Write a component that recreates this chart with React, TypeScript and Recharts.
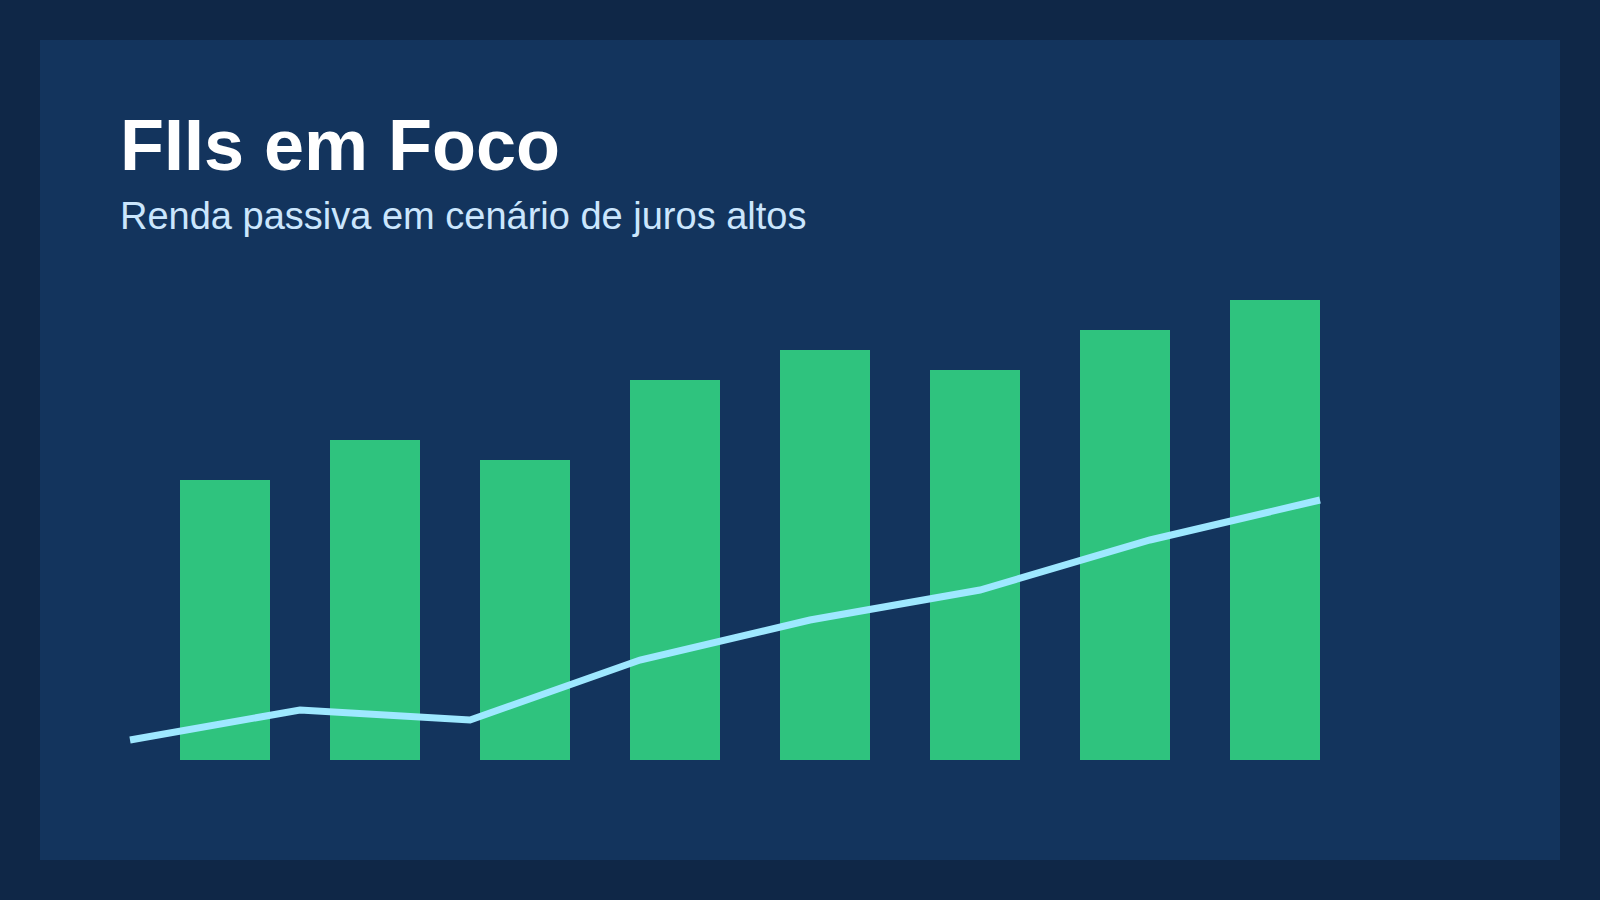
import React from 'react';
import { ComposedChart, Bar, Line, XAxis, YAxis } from 'recharts';

const months = ['Jan', 'Fev', 'Mar', 'Abr', 'Mai', 'Jun', 'Jul', 'Ago'];
const dividendYield = [0.56, 0.64, 0.6, 0.76, 0.82, 0.78, 0.86, 0.92];
const trendValues = [0.04, 0.1, 0.08, 0.2, 0.28, 0.34, 0.44, 0.52];

const title = 'FIIs em Foco';
const subtitle = 'Renda passiva em cenário de juros altos';

const data = months.map((m, i) => ({ mes: m, dy: dividendYield[i], trend: trendValues[i] }));

const FONT = '"Liberation Sans", Arial, Helvetica, sans-serif';

export default function App() {
  return (
    <div
      style={{
        position: 'absolute',
        left: 0,
        top: 0,
        width: 1600,
        height: 900,
        background: '#0f2747',
        overflow: 'hidden',
      }}
    >
      <div
        style={{
          position: 'absolute',
          left: 40,
          top: 40,
          width: 1520,
          height: 820,
          background: '#13345d',
        }}
      />
      <div style={{ position: 'absolute', left: 0, top: 0 }}>
        <ComposedChart
          width={1600}
          height={900}
          data={data}
          margin={{ top: 300, right: 250, bottom: 140, left: 130 }}
        >
          <XAxis xAxisId="bar" dataKey="mes" hide padding={{ left: 20, right: 0 }} />
          <XAxis xAxisId="line" dataKey="mes" hide scale="point" padding={{ left: 0, right: 30 }} />
          <YAxis hide type="number" domain={[0, 0.92]} />
          <Bar xAxisId="bar" dataKey="dy" fill="#2fc37e" barSize={90} isAnimationActive={false} />
          <Line
            xAxisId="line"
            dataKey="trend"
            type="linear"
            stroke="#9ee8ff"
            strokeWidth={7}
            dot={false}
            activeDot={false}
            isAnimationActive={false}
          />
        </ComposedChart>
      </div>
      <svg
        width={1600}
        height={300}
        style={{ position: 'absolute', left: 0, top: 0 }}
      >
        <text x={120} y={170} fill="#ffffff" fontFamily={FONT} fontWeight={700} fontSize={72}>
          {title}
        </text>
        <text x={120} y={229} fill="#cbe6fd" fontFamily={FONT} fontSize={38}>
          {subtitle}
        </text>
      </svg>
    </div>
  );
}
